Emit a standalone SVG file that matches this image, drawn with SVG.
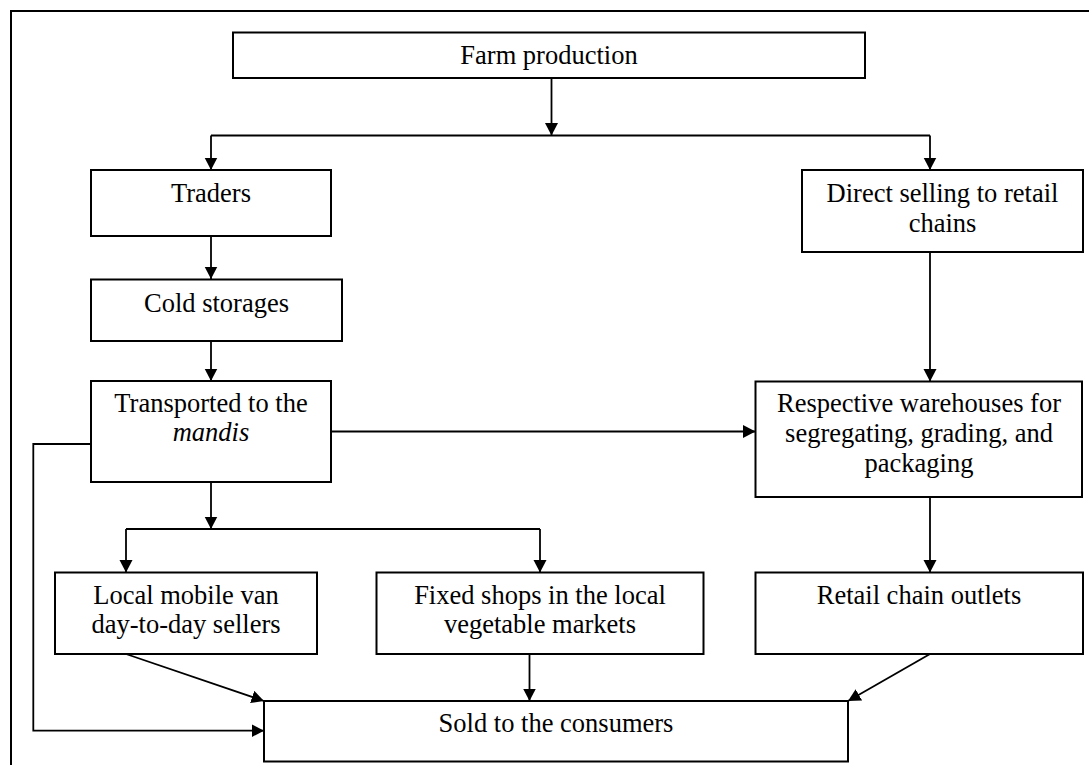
<svg xmlns="http://www.w3.org/2000/svg" width="1089" height="765" viewBox="0 0 1089 765">
<defs>
<style>
.box{fill:#fff;stroke:#000;stroke-width:2}
.ln{fill:none;stroke:#000;stroke-width:1.8}
.ar{marker-end:url(#ah)}
text{font-family:"Liberation Serif","Times New Roman",serif;font-size:26.5px;fill:#000;text-anchor:middle}
</style>
<marker id="ah" markerUnits="userSpaceOnUse" markerWidth="13" markerHeight="14" refX="12.5" refY="6.5" orient="auto">
<path d="M0,0 L12.5,6.5 L0,13 z" fill="#000"/>
</marker>
</defs>
<rect width="1089" height="765" fill="#fff"/>
<path d="M11,765 V11 H1089" fill="none" stroke="#000" stroke-width="2"/>
<g id="connectors">
<path class="ln ar" d="M551.5,78 V135.5"/>
<path class="ln" d="M211,135.5 H930"/>
<path class="ln ar" d="M211,135.5 V170"/>
<path class="ln ar" d="M930,135.5 V170"/>
<path class="ln ar" d="M211,236 V279"/>
<path class="ln ar" d="M211,341 V381"/>
<path class="ln ar" d="M930,252 V381.5"/>
<path class="ln ar" d="M331,431.5 H755.5"/>
<path class="ln ar" d="M211,482 V529"/>
<path class="ln" d="M126,529 H540"/>
<path class="ln ar" d="M126,529 V572.5"/>
<path class="ln ar" d="M540,529 V572.5"/>
<path class="ln ar" d="M930,497 V572.5"/>
<path class="ln ar" d="M126,654 L264,701"/>
<path class="ln ar" d="M529.5,654 V701"/>
<path class="ln ar" d="M930,654 L848,701"/>
<path class="ln ar" d="M91,444 H33.3 V730.7 H264"/>
</g>
<g id="farm"><rect class="box" x="233" y="32.5" width="632" height="45.5"/><text x="549" y="64">Farm production</text></g>
<g id="traders"><rect class="box" x="91" y="170" width="240" height="66"/><text x="211" y="202">Traders</text></g>
<g id="direct"><rect class="box" x="802" y="170" width="281" height="82"/><text x="942.5" y="202">Direct selling to retail</text><text x="942.5" y="232">chains</text></g>
<g id="cold"><rect class="box" x="91" y="279.5" width="251" height="61.5"/><text x="216.5" y="312">Cold storages</text></g>
<g id="mandis"><rect class="box" x="91" y="381" width="240" height="101"/><text x="211" y="412">Transported to the</text><text x="211" y="441" font-style="italic">mandis</text></g>
<g id="warehouses"><rect class="box" x="755.5" y="381.5" width="326.5" height="115.5"/><text x="919" y="412">Respective warehouses for</text><text x="919" y="442">segregating, grading, and</text><text x="919" y="472">packaging</text></g>
<g id="mobile"><rect class="box" x="55" y="572.5" width="262" height="81.5"/><text x="186" y="604">Local mobile van</text><text x="186" y="633">day-to-day sellers</text></g>
<g id="fixed"><rect class="box" x="376.5" y="572.5" width="327" height="81.5"/><text x="540" y="604">Fixed shops in the local</text><text x="540" y="633">vegetable markets</text></g>
<g id="outlets"><rect class="box" x="755.5" y="572.5" width="327.5" height="81.5"/><text x="919" y="604">Retail chain outlets</text></g>
<g id="consumers"><rect class="box" x="264" y="701" width="584" height="60.5"/><text x="556" y="732">Sold to the consumers</text></g>
</svg>
